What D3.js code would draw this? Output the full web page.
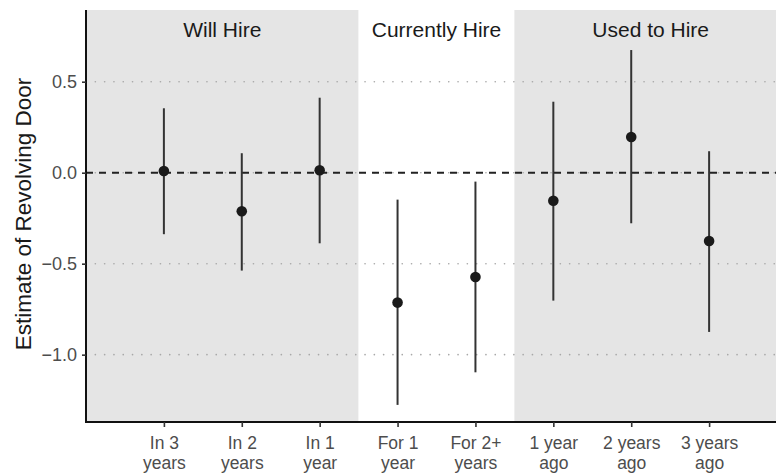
<!DOCTYPE html>
<html>
<head>
<meta charset="utf-8">
<script src="https://cdn.jsdelivr.net/npm/d3@7/dist/d3.min.js"></script>
<style>
  html, body { margin: 0; padding: 0; background: #fff; }
  svg { display: block; font-family: "Liberation Sans", Arial, Helvetica, sans-serif; }
</style>
</head>
<body>
<svg id="chart" width="776" height="473"></svg>
<script>
// Hiring timing categories (two-line tick labels)
const categories = [
  ["In 3", "years"], ["In 2", "years"], ["In 1", "year"],
  ["For 1", "year"], ["For 2+", "years"],
  ["1 year", "ago"], ["2 years", "ago"], ["3 years", "ago"]
];
// Point estimates and 95% interval bounds
const estimates = [0.009, -0.212, 0.013, -0.714, -0.573, -0.154, 0.196, -0.375];
const lower     = [-0.338, -0.538, -0.388, -1.276, -1.097, -0.703, -0.278, -0.875];
const upper     = [0.354, 0.107, 0.412, -0.148, -0.049, 0.390, 0.674, 0.118];
// Group bands (in category position units)
const groupNames = ["Will Hire", "Currently Hire", "Used to Hire"];
const groupStart = [0, 3.5, 5.5];
const groupEnd   = [3.5, 5.5, 9];
const groupShaded = [true, false, true];
// Y-axis ticks
const yTicks = [-1.0, -0.5, 0.0, 0.5];

const svg = d3.select("#chart");
const panelLeft = 86, panelRight = 787, panelTop = 10, panelBottom = 422;

const x = d3.scaleLinear().domain([0, 9]).range([panelLeft, panelRight]);
const y = d3.scaleLinear().domain([-1.37, 0.894]).range([panelBottom, panelTop]);

// Background bands
const groups = groupNames.map((name, i) => ({ name, s: groupStart[i], e: groupEnd[i], shaded: groupShaded[i] }));
svg.append("g").selectAll("rect").data(groups).join("rect")
  .attr("x", d => x(d.s)).attr("y", panelTop)
  .attr("width", d => x(d.e) - x(d.s)).attr("height", panelBottom - panelTop)
  .attr("fill", d => d.shaded ? "#e5e5e5" : "#ffffff");

// Dotted horizontal gridlines
svg.append("g").selectAll("line").data(yTicks).join("line")
  .attr("x1", panelLeft).attr("x2", 776)
  .attr("y1", d => y(d)).attr("y2", d => y(d))
  .attr("stroke", "#a8a8a8").attr("stroke-width", 1.6)
  .attr("stroke-linecap", "round")
  .attr("stroke-dasharray", "0.1 9.2");

// Dashed reference line at zero
svg.append("line")
  .attr("x1", panelLeft).attr("x2", 776)
  .attr("y1", y(0)).attr("y2", y(0))
  .attr("stroke", "#222").attr("stroke-width", 2)
  .attr("stroke-dasharray", "7 6");

// Group labels
svg.append("g").selectAll("text").data(groups).join("text")
  .attr("x", d => x((d.s + d.e) / 2)).attr("y", 37)
  .attr("text-anchor", "middle")
  .attr("font-size", 21).attr("fill", "#1a1a1a")
  .text(d => d.name);

// Error bars and points
const pts = estimates.map((v, i) => ({ pos: i + 1, v, lo: lower[i], hi: upper[i] }));
svg.append("g").selectAll("line").data(pts).join("line")
  .attr("x1", d => x(d.pos)).attr("x2", d => x(d.pos))
  .attr("y1", d => y(d.lo)).attr("y2", d => y(d.hi))
  .attr("stroke", "#333").attr("stroke-width", 2);
svg.append("g").selectAll("circle").data(pts).join("circle")
  .attr("cx", d => x(d.pos)).attr("cy", d => y(d.v))
  .attr("r", 5.3).attr("fill", "#1a1a1a");

// Y axis
const yAxis = svg.append("g").attr("transform", `translate(${panelLeft},0)`)
  .call(d3.axisLeft(y).tickValues(yTicks).tickSize(4).tickPadding(5)
    .tickFormat(d => d3.format(".1f")(d).replace("-", "\u2212")));
yAxis.select(".domain").attr("stroke", "#111").attr("stroke-width", 2)
  .attr("d", `M0,${panelTop}V${panelBottom + 1}`);
yAxis.selectAll(".tick line").attr("stroke", "#333").attr("stroke-width", 1.6);
yAxis.selectAll(".tick text").attr("font-size", 18).attr("fill", "#4d4d4d")
  .attr("font-family", "Liberation Sans, Arial, sans-serif");

// X axis
const xAxis = svg.append("g").attr("transform", `translate(0,${panelBottom})`)
  .call(d3.axisBottom(x).tickValues(d3.range(1, categories.length + 1)).tickSize(5).tickFormat(""));
xAxis.select(".domain").attr("stroke", "#111").attr("stroke-width", 2)
  .attr("d", `M${panelLeft - 1},0H776`);
xAxis.selectAll(".tick line").attr("stroke", "#333").attr("stroke-width", 1.6);
const tickLabels = xAxis.selectAll(".tick text")
  .attr("font-size", 17.5).attr("fill", "#4d4d4d")
  .attr("font-family", "Liberation Sans, Arial, sans-serif")
  .attr("y", 27).attr("dy", null);
tickLabels.each(function(d) {
  const lines = categories[d - 1];
  const t = d3.select(this);
  lines.forEach((ln, k) => {
    t.append("tspan").attr("x", 0).attr("y", 27 + k * 19.5).text(ln);
  });
});

// Y axis title
svg.append("text")
  .attr("transform", `translate(31,${(panelTop + panelBottom) / 2 - 2}) rotate(-90)`)
  .attr("text-anchor", "middle")
  .attr("font-size", 22.5).attr("fill", "#1a1a1a")
  .text("Estimate of Revolving Door");
</script>
</body>
</html>
